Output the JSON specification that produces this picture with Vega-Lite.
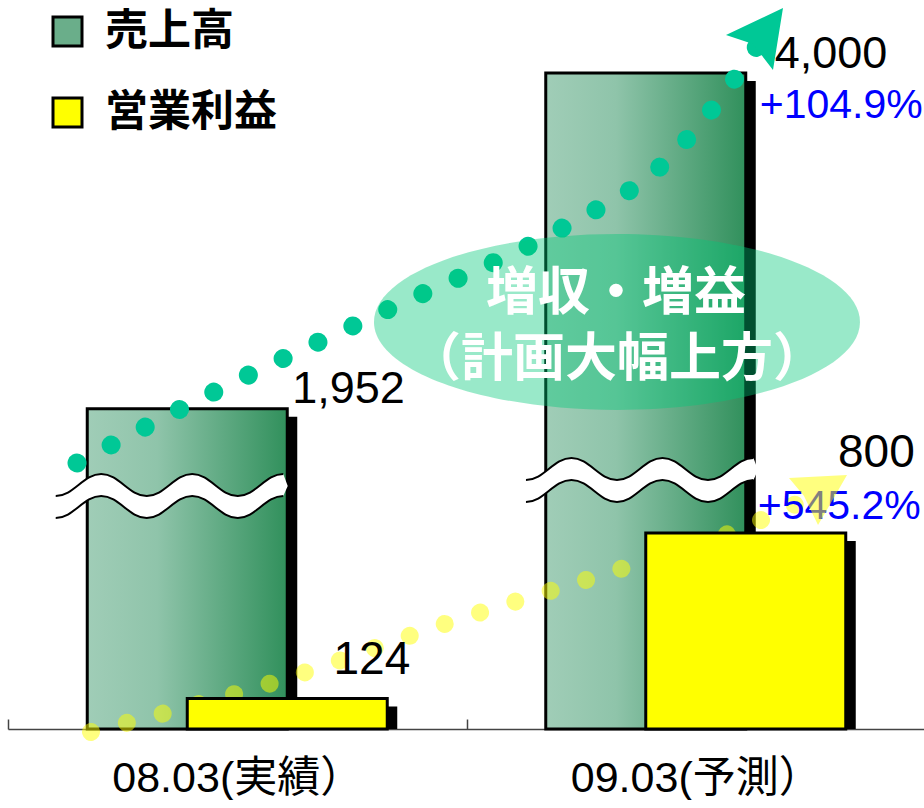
{
  "$schema": "https://vega.github.io/schema/vega-lite/v6.json",
  "width": 917,
  "height": 729,
  "padding": {"left": 7, "top": 0, "right": 0, "bottom": 0},
  "background": "white",
  "config": {"view": {"stroke": null}, "font": "Noto Sans CJK JP"},
  "datasets": {
    "main": [
      {"period": "08.03(実績）", "series": "売上高", "value": 1952, "label": "1,952"},
      {"period": "09.03(予測）", "series": "売上高", "value": 4000, "label": "4,000", "change": "+104.9%"},
      {"period": "08.03(実績）", "series": "営業利益", "value": 124, "label": "124"},
      {"period": "09.03(予測）", "series": "営業利益", "value": 800, "label": "800", "change": "+545.2%"}
    ],
    "salesTrend": [
      {"u": -0.3495, "v": 1622}, {"u": -0.0507, "v": 2055}, {"u": 0.3310, "v": 2561},
      {"u": 0.7126, "v": 3061}, {"u": 0.9264, "v": 3439}, {"u": 1.0398, "v": 3793}, {"u": 1.1358, "v": 4171}
    ],
    "profitTrend": [
      {"u": -0.319, "v": -12}, {"u": 0.0758, "v": 188}, {"u": 0.4591, "v": 433},
      {"u": 0.8495, "v": 661}, {"u": 1.0807, "v": 804}, {"u": 1.229, "v": 927}
    ],
    "notes": [
      {"note": "break", "u": -0.1429, "v": 1421},
      {"note": "break", "u": 0.8827, "v": 1518},
      {"note": "ellipse", "u": 0.8282, "v": 2482},
      {"note": "headline1", "u": 0.826, "v": 2652, "text": "増収・増益"},
      {"note": "headline2", "u": 0.828, "v": 2250, "text": "（計画大幅上方）"},
      {"note": "salesArrow", "u": 1.1423, "v": 4201}
    ],
    "profitNotes": [
      {"note": "profitArrow", "u": 1.2623, "v": 975}
    ]
  },
  "resolve": {"scale": {"x": "independent", "y": "independent"}},
  "layer": [
    {
      "data": {"name": "main"},
      "transform": [{"filter": "datum.series === '売上高'"}],
      "mark": {"type": "bar", "width": 200, "fill": "black", "xOffset": -40, "yOffset": 8, "clip": true},
      "encoding": {
        "x": {"field": "period", "type": "nominal", "scale": {"domain": ["08.03(実績）", "09.03(予測）"], "paddingInner": 0, "paddingOuter": 0}, "axis": null},
        "y": {"field": "value", "type": "quantitative", "scale": {"domain": [0, 4445], "nice": false}, "axis": null}
      }
    },
    {
      "data": {"name": "main"},
      "transform": [{"filter": "datum.series === '売上高'"}],
      "mark": {"type": "bar", "width": 200, "xOffset": -50, "stroke": "black", "strokeWidth": 3,
        "fill": {"gradient": "linear", "x1": 0, "y1": 0, "x2": 1, "y2": 0, "stops": [{"offset": 0, "color": "#a0cdb7"}, {"offset": 0.35, "color": "#8fc4aa"}, {"offset": 1, "color": "#31905c"}]}},
      "encoding": {
        "x": {"field": "period", "type": "nominal", "scale": {"domain": ["08.03(実績）", "09.03(予測）"], "paddingInner": 0, "paddingOuter": 0},
          "axis": {"title": null, "labelAngle": 0, "labelFont": "Liberation Sans, Noto Sans CJK JP", "labelFontSize": 43, "labelColor": "black", "labelLimit": 0, "labelPadding": 38, "domainColor": "#444", "domainWidth": 1.5, "tickColor": "#444", "tickWidth": 1.5, "tickSize": -10, "tickBand": "extent", "grid": false}},
        "y": {"field": "value", "type": "quantitative", "scale": {"domain": [0, 4445], "nice": false}, "axis": null}
      }
    },
    {
      "data": {"name": "notes"},
      "transform": [{"filter": "datum.note === 'break'"}],
      "mark": {"type": "point", "filled": true, "opacity": 1, "size": 4, "fill": "white", "strokeWidth": 0,
        "shape": "M-116,0 C-98,0 -88.5,-22 -70.5,-22 C-52.5,-22 -43,0 -25,0 C-7,0 2.5,-22 20.5,-22 C38.5,-22 48,0 66,0 C84,0 93.5,-22 111.5,-22 L116,-10 L111.5,0 C93.5,0 84,22 66,22 C48,22 38.5,0 20.5,0 C2.5,0 -7,22 -25,22 C-43,22 -52.5,0 -70.5,0 C-88.5,0 -98,22 -116,22 Z"},
      "encoding": {
        "x": {"field": "u", "type": "quantitative", "scale": {"domain": [-0.5, 1.5], "nice": false, "zero": false}, "axis": null},
        "y": {"field": "v", "type": "quantitative", "scale": {"domain": [0, 4445], "nice": false, "zero": false}, "axis": null}
      }
    },
    {
      "data": {"name": "notes"},
      "transform": [{"filter": "datum.note === 'break'"}],
      "mark": {"type": "point", "filled": false, "opacity": 1, "size": 4, "stroke": "black", "strokeWidth": 2,
        "shape": "M-116,0 C-98,0 -88.5,-22 -70.5,-22 C-52.5,-22 -43,0 -25,0 C-7,0 2.5,-22 20.5,-22 C38.5,-22 48,0 66,0 C84,0 93.5,-22 111.5,-22 M-116,22 C-98,22 -88.5,0 -70.5,0 C-52.5,0 -43,22 -25,22 C-7,22 2.5,0 20.5,0 C38.5,0 48,22 66,22 C84,22 93.5,0 111.5,0"},
      "encoding": {
        "x": {"field": "u", "type": "quantitative", "scale": {"domain": [-0.5, 1.5], "nice": false, "zero": false}, "axis": null},
        "y": {"field": "v", "type": "quantitative", "scale": {"domain": [0, 4445], "nice": false, "zero": false}, "axis": null}
      }
    },
    {
      "data": {"name": "salesTrend"},
      "mark": {"type": "line", "interpolate": "monotone", "stroke": "#00c896", "strokeWidth": 19, "strokeCap": "round", "strokeDash": [0.01, 38.5]},
      "encoding": {
        "x": {"field": "u", "type": "quantitative", "scale": {"domain": [-0.5, 1.5], "nice": false, "zero": false}, "axis": null},
        "y": {"field": "v", "type": "quantitative", "scale": {"domain": [0, 4445], "nice": false, "zero": false}, "axis": null}
      }
    },
    {
      "data": {"name": "notes"},
      "transform": [{"filter": "datum.note === 'ellipse'"}],
      "mark": {"type": "point", "filled": true, "opacity": 1, "size": 4, "fill": "#00c878", "fillOpacity": 0.4, "strokeWidth": 0,
        "shape": "M-243,0 A243,88 0 1,0 243,0 A243,88 0 1,0 -243,0 Z"},
      "encoding": {
        "x": {"field": "u", "type": "quantitative", "scale": {"domain": [-0.5, 1.5], "nice": false, "zero": false}, "axis": null},
        "y": {"field": "v", "type": "quantitative", "scale": {"domain": [0, 4445], "nice": false, "zero": false}, "axis": null}
      }
    },
    {
      "data": {"name": "notes"},
      "transform": [{"filter": "datum.note === 'headline1'"}],
      "mark": {"type": "text", "align": "center", "baseline": "middle", "font": "Noto Sans CJK JP", "fontWeight": "bold", "fontSize": 52, "fill": "white"},
      "encoding": {
        "x": {"field": "u", "type": "quantitative", "scale": {"domain": [-0.5, 1.5], "nice": false, "zero": false}, "axis": null},
        "y": {"field": "v", "type": "quantitative", "scale": {"domain": [0, 4445], "nice": false, "zero": false}, "axis": null},
        "text": {"field": "text"}
      }
    },
    {
      "data": {"name": "notes"},
      "transform": [{"filter": "datum.note === 'headline2'"}],
      "mark": {"type": "text", "align": "center", "baseline": "middle", "font": "Noto Sans CJK JP", "fontWeight": "bold", "fontSize": 52, "fill": "white"},
      "encoding": {
        "x": {"field": "u", "type": "quantitative", "scale": {"domain": [-0.5, 1.5], "nice": false, "zero": false}, "axis": null},
        "y": {"field": "v", "type": "quantitative", "scale": {"domain": [0, 4445], "nice": false, "zero": false}, "axis": null},
        "text": {"field": "text"}
      }
    },
    {
      "data": {"name": "profitTrend"},
      "mark": {"type": "line", "interpolate": "monotone", "stroke": "#ffff00", "strokeOpacity": 0.5, "strokeWidth": 18, "strokeCap": "round", "strokeDash": [0.01, 37]},
      "encoding": {
        "x": {"field": "u", "type": "quantitative", "scale": {"domain": [-0.5, 1.5], "nice": false, "zero": false}, "axis": null},
        "y": {"field": "v", "type": "quantitative", "scale": {"domain": [0, 2975.5], "nice": false, "zero": false}, "axis": null}
      }
    },
    {
      "data": {"name": "main"},
      "transform": [{"filter": "datum.series === '営業利益'"}],
      "mark": {"type": "bar", "width": 200, "fill": "black", "xOffset": 60, "yOffset": 8, "clip": true},
      "encoding": {
        "x": {"field": "period", "type": "nominal", "scale": {"domain": ["08.03(実績）", "09.03(予測）"], "paddingInner": 0, "paddingOuter": 0}, "axis": null},
        "y": {"field": "value", "type": "quantitative", "scale": {"domain": [0, 2975.5], "nice": false}, "axis": null}
      }
    },
    {
      "data": {"name": "main"},
      "transform": [{"filter": "datum.series === '営業利益'"}],
      "mark": {"type": "bar", "width": 200, "xOffset": 50, "stroke": "black", "strokeWidth": 3},
      "encoding": {
        "x": {"field": "period", "type": "nominal", "scale": {"domain": ["08.03(実績）", "09.03(予測）"], "paddingInner": 0, "paddingOuter": 0}, "axis": null},
        "y": {"field": "value", "type": "quantitative", "scale": {"domain": [0, 2975.5], "nice": false}, "axis": null},
        "color": {"field": "series", "type": "nominal",
          "scale": {"domain": ["売上高", "営業利益"], "range": ["#6aae8a", "#ffff00"]},
          "legend": {"orient": "none", "legendX": 38, "legendY": 10, "title": null, "symbolType": "square", "symbolSize": 841, "symbolStrokeColor": "black", "symbolStrokeWidth": 3, "symbolOpacity": 1, "labelFontSize": 43, "labelFont": "Noto Sans CJK JP", "labelFontWeight": "bold", "labelColor": "black", "labelLimit": 0, "rowPadding": 37, "labelOffset": 16, "padding": 0}}
      }
    },
    {
      "data": {"name": "main"},
      "transform": [{"filter": "datum.series === '売上高' && datum.value === 1952"}],
      "mark": {"type": "text", "align": "left", "baseline": "alphabetic", "dx": 55, "dy": -6, "font": "Liberation Sans", "fontSize": 45, "fill": "black"},
      "encoding": {
        "x": {"field": "period", "type": "nominal", "scale": {"domain": ["08.03(実績）", "09.03(予測）"], "paddingInner": 0, "paddingOuter": 0}, "axis": null},
        "y": {"field": "value", "type": "quantitative", "scale": {"domain": [0, 4445], "nice": false}, "axis": null},
        "text": {"field": "label"}
      }
    },
    {
      "data": {"name": "main"},
      "transform": [{"filter": "datum.series === '売上高' && datum.value === 4000"}],
      "mark": {"type": "text", "align": "left", "baseline": "alphabetic", "dx": 79, "dy": -5, "font": "Liberation Sans", "fontSize": 45, "fill": "black"},
      "encoding": {
        "x": {"field": "period", "type": "nominal", "scale": {"domain": ["08.03(実績）", "09.03(予測）"], "paddingInner": 0, "paddingOuter": 0}, "axis": null},
        "y": {"field": "value", "type": "quantitative", "scale": {"domain": [0, 4445], "nice": false}, "axis": null},
        "text": {"field": "label"}
      }
    },
    {
      "data": {"name": "main"},
      "transform": [{"filter": "datum.series === '売上高' && datum.value === 4000"}],
      "mark": {"type": "text", "align": "left", "baseline": "alphabetic", "dx": 64, "dy": 45, "font": "Liberation Sans", "fontSize": 41, "fill": "#0000ff"},
      "encoding": {
        "x": {"field": "period", "type": "nominal", "scale": {"domain": ["08.03(実績）", "09.03(予測）"], "paddingInner": 0, "paddingOuter": 0}, "axis": null},
        "y": {"field": "value", "type": "quantitative", "scale": {"domain": [0, 4445], "nice": false}, "axis": null},
        "text": {"field": "change"}
      }
    },
    {
      "data": {"name": "main"},
      "transform": [{"filter": "datum.series === '営業利益' && datum.value === 124"}],
      "mark": {"type": "text", "align": "right", "baseline": "alphabetic", "dx": 173, "dy": -25, "font": "Liberation Sans", "fontSize": 46, "fill": "black"},
      "encoding": {
        "x": {"field": "period", "type": "nominal", "scale": {"domain": ["08.03(実績）", "09.03(予測）"], "paddingInner": 0, "paddingOuter": 0}, "axis": null},
        "y": {"field": "value", "type": "quantitative", "scale": {"domain": [0, 2975.5], "nice": false}, "axis": null},
        "text": {"field": "label"}
      }
    },
    {
      "data": {"name": "main"},
      "transform": [{"filter": "datum.series === '営業利益' && datum.value === 800"}],
      "mark": {"type": "text", "align": "right", "baseline": "alphabetic", "dx": 219, "dy": -66, "font": "Liberation Sans", "fontSize": 46, "fill": "black"},
      "encoding": {
        "x": {"field": "period", "type": "nominal", "scale": {"domain": ["08.03(実績）", "09.03(予測）"], "paddingInner": 0, "paddingOuter": 0}, "axis": null},
        "y": {"field": "value", "type": "quantitative", "scale": {"domain": [0, 2975.5], "nice": false}, "axis": null},
        "text": {"field": "label"}
      }
    },
    {
      "data": {"name": "main"},
      "transform": [{"filter": "datum.series === '営業利益' && datum.value === 800"}],
      "mark": {"type": "text", "align": "right", "baseline": "alphabetic", "dx": 225, "dy": -14, "font": "Liberation Sans", "fontSize": 41, "fill": "#0000ff"},
      "encoding": {
        "x": {"field": "period", "type": "nominal", "scale": {"domain": ["08.03(実績）", "09.03(予測）"], "paddingInner": 0, "paddingOuter": 0}, "axis": null},
        "y": {"field": "value", "type": "quantitative", "scale": {"domain": [0, 2975.5], "nice": false}, "axis": null},
        "text": {"field": "change"}
      }
    },
    {
      "data": {"name": "notes"},
      "transform": [{"filter": "datum.note === 'salesArrow'"}],
      "mark": {"type": "point", "filled": true, "opacity": 1, "size": 4, "fill": "#00c896", "strokeWidth": 0,
        "shape": "M22,-32 L-35,-5 L-8,4 L12,30 Z"},
      "encoding": {
        "x": {"field": "u", "type": "quantitative", "scale": {"domain": [-0.5, 1.5], "nice": false, "zero": false}, "axis": null},
        "y": {"field": "v", "type": "quantitative", "scale": {"domain": [0, 4445], "nice": false, "zero": false}, "axis": null}
      }
    },
    {
      "data": {"name": "profitNotes"},
      "mark": {"type": "point", "filled": true, "opacity": 1, "size": 4, "fill": "#ffff00", "fillOpacity": 0.5, "strokeWidth": 0,
        "shape": "M31,-15 L-27,-12 L-12,6 L2,35 Z"},
      "encoding": {
        "x": {"field": "u", "type": "quantitative", "scale": {"domain": [-0.5, 1.5], "nice": false, "zero": false}, "axis": null},
        "y": {"field": "v", "type": "quantitative", "scale": {"domain": [0, 2975.5], "nice": false, "zero": false}, "axis": null}
      }
    }
  ]
}
